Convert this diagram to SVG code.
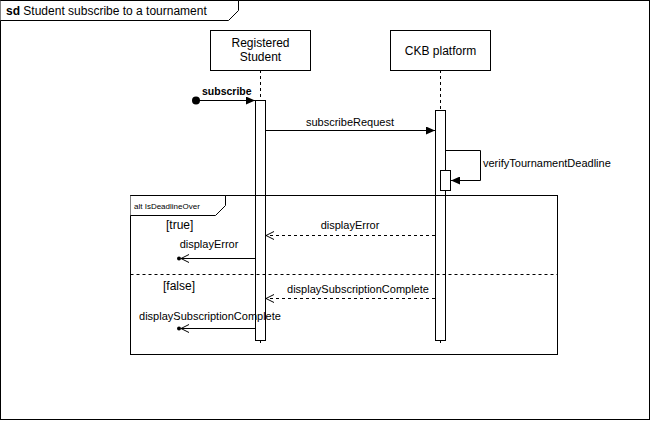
<svg xmlns="http://www.w3.org/2000/svg" width="651" height="421" viewBox="0 0 651 421">
<style>
text{font-family:"Liberation Sans",Arial,sans-serif;fill:#000}
.t11{font-size:11px}
.t12{font-size:12px}
.box{fill:#fff;stroke:#000;stroke-width:1}
.ll{stroke:#000;stroke-dasharray:3,3;fill:none}
.msg{stroke:#000;fill:none}
.ret{stroke:#000;fill:none;stroke-dasharray:3,3}
</style>
<defs>
<marker id="fill" markerWidth="10" markerHeight="8" refX="9" refY="4" orient="auto" markerUnits="userSpaceOnUse">
<path d="M0,0 L9,4 L0,8 Z" fill="#000"/>
</marker>
<marker id="openEnd" markerWidth="10" markerHeight="10" refX="9" refY="5" orient="auto" markerUnits="userSpaceOnUse">
<path d="M1,1 L9,5 L1,9" fill="none" stroke="#000"/>
</marker>
</defs>
<rect x="0" y="0" width="651" height="421" fill="#fff"/>
<g id="frame">
<rect x="0.5" y="0.5" width="649" height="419" fill="none" stroke="#000"/>
<path d="M0.5,0.5 L238.5,0.5 L238.5,10.5 L228.5,20.5 L0.5,20.5" fill="#fff" stroke="#000"/>
<text class="t12" x="6" y="15"><tspan font-weight="bold">sd</tspan> Student subscribe to a tournament</text>
</g>
<g id="student">
<line class="ll" x1="260.5" y1="70" x2="260.5" y2="346"/>
<rect class="box" x="210.5" y="30.5" width="100" height="40"/>
<text class="t12" x="260.5" y="47" text-anchor="middle">Registered</text>
<text class="t12" x="260.5" y="61" text-anchor="middle">Student</text>
<rect class="box" x="255.5" y="100.5" width="10" height="240"/>
</g>
<g id="platform">
<line class="ll" x1="440.5" y1="70" x2="440.5" y2="346"/>
<rect class="box" x="390.5" y="30.5" width="100" height="40"/>
<text class="t12" x="440.5" y="55" text-anchor="middle">CKB platform</text>
<rect class="box" x="435.5" y="110.5" width="10" height="230"/>
<rect class="box" x="440.5" y="170.5" width="10" height="20"/>
</g>
<g id="alt">
<rect x="130.5" y="195.5" width="427" height="159" fill="none" stroke="#000"/>
<path d="M130.5,195.5 L225.5,195.5 L225.5,205.5 L215.5,215.5 L130.5,215.5" fill="#fff" stroke="#000"/>
<text x="134" y="209" font-size="8px">alt IsDeadlineOver</text>
<line x1="130.5" y1="274.5" x2="557.5" y2="274.5" stroke="#000" stroke-dasharray="3,3"/>
<text class="t12" x="166" y="229">[true]</text>
<text class="t12" x="163" y="290">[false]</text>
</g>
<g id="connectors">
<circle cx="196" cy="100.5" r="4" fill="#000"/>
<line class="msg" x1="196" y1="100.5" x2="255" y2="100.5" marker-end="url(#fill)"/>
<text x="202" y="95" font-size="10.5px" font-weight="bold">subscribe</text>
<line class="msg" x1="265.5" y1="130.5" x2="435" y2="130.5" marker-end="url(#fill)"/>
<text class="t11" x="350" y="126" text-anchor="middle">subscribeRequest</text>
<path class="msg" d="M445.5,150.5 L480.5,150.5 L480.5,180.5 L451,180.5" marker-end="url(#fill)"/>
<text class="t11" x="483" y="167">verifyTournamentDeadline</text>
<line class="ret" x1="435" y1="235.5" x2="266" y2="235.5" marker-end="url(#openEnd)"/>
<text class="t11" x="350" y="229" text-anchor="middle">displayError</text>
<line class="msg" x1="255" y1="258.5" x2="181" y2="258.5" marker-end="url(#openEnd)"/>
<circle cx="179" cy="258.5" r="2" fill="#000"/>
<text class="t11" x="209" y="248" text-anchor="middle">displayError</text>
<line class="ret" x1="435" y1="298.5" x2="266" y2="298.5" marker-end="url(#openEnd)"/>
<text class="t11" x="358" y="293" text-anchor="middle">displaySubscriptionComplete</text>
<line class="msg" x1="255" y1="328.5" x2="181" y2="328.5" marker-end="url(#openEnd)"/>
<circle cx="179" cy="328.5" r="2" fill="#000"/>
<text class="t11" x="210" y="320" text-anchor="middle">displaySubscriptionComplete</text>
</g>
</svg>
